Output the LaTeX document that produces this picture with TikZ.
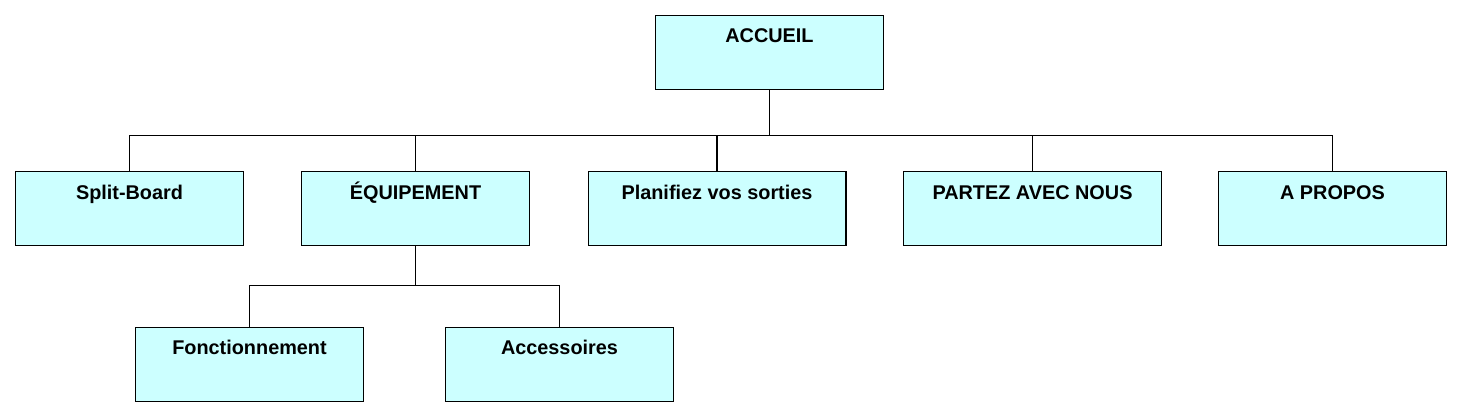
\documentclass[tikz,border=0pt]{standalone}
\usepackage{fontspec}
\setmainfont{Liberation Sans}
\usetikzlibrary{positioning}
\definecolor{boxfill}{RGB}{204,255,255}

\begin{document}
\begin{tikzpicture}[
    x=0.02cm, y=-0.02cm,
    block/.style={rectangle, draw, line width=0.6pt, fill=boxfill, minimum width=4.56cm,
        inner xsep=0pt, inner ysep=0pt, text height=0.55cm, text depth=0.93cm,
        font=\fontsize{11.3}{13}\selectfont\bfseries},
    wideblock/.style={block, minimum width=5.16cm},
    line/.style={draw, line width=0.6pt}
]
    \useasboundingbox (0,0) rectangle (1462,417);

    %% top level
    \node [block] (accueil) at (769.5,52.3) {ACCUEIL};

    %% menu
    \node [block] (splitboard) at (129.5,208.8) {Split-Board};
    \node [block] (equipement) at (415.5,208.8) {ÉQUIPEMENT};
    \node [wideblock] (planifiez) at (717,208.8) {Planifiez vos sorties};
    \node [wideblock] (partez) at (1032.5,208.8) {PARTEZ AVEC NOUS};
    \node [block] (apropos) at (1332.5,208.8) {A PROPOS};

    %% sub menu
    \node [block] (fonctionnement) at (249.5,364.3) {Fonctionnement};
    \node [block] (accessoires) at (559.5,364.3) {Accessoires};

    % Paths
    \coordinate (bus) at (769.5,135.5);
    \draw [line] (accueil.south) -- (bus);
    \draw [line] (splitboard.north) |- (bus) -| (apropos.north);
    \draw [line] (equipement.north) -- (equipement.north |- bus);
    \draw [line] (planifiez.north) -- (planifiez.north |- bus);
    \draw [line] (partez.north) -- (partez.north |- bus);

    % Equipement children
    \coordinate (subbus) at (415.5,285.5);
    \draw [line] (equipement.south) -- (subbus);
    \draw [line] (fonctionnement.north) |- (subbus) -| (accessoires.north);

\end{tikzpicture}
\end{document}
